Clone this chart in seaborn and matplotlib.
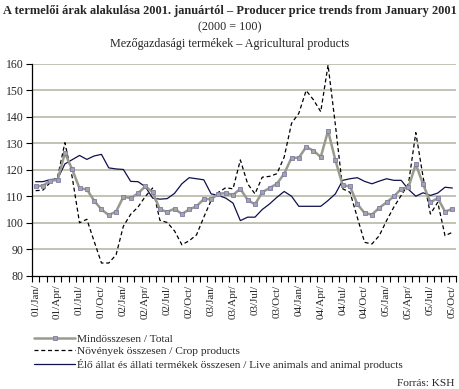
import matplotlib
matplotlib.use("Agg")
import matplotlib.pyplot as plt
import matplotlib.lines as mlines
import numpy as np
import pandas as pd
import seaborn as sns

# monthly index values, Jan 2001 - Oct 2005 (2000 = 100)
total = [113.8, 114.1, 116.0, 116.2, 126.4, 120.2, 113.1, 112.7, 108.4, 105.1,
         103.0, 104.3, 109.9, 109.4, 111.2, 113.8, 111.7, 105.1, 104.2, 105.4,
         103.4, 105.1, 106.3, 109.0, 109.0, 111.0, 111.3, 110.6, 112.9, 108.7,
         107.0, 111.6, 113.2, 114.8, 118.6, 124.6, 124.6, 128.7, 127.3, 124.9,
         134.8, 123.7, 114.2, 113.8, 107.2, 103.7, 103.2, 105.7, 107.8, 110.0,
         112.9, 113.5, 122.2, 114.6, 107.8, 109.4, 104.3, 105.3]
crop = [112.2, 112.4, 115.3, 117.3, 130.3, 117.3, 100.1, 101.4, 93.1, 84.9,
        84.9, 88.0, 98.8, 103.3, 106.0, 110.0, 113.2, 101.0, 100.2, 97.0,
        91.8, 93.3, 95.5, 102.2, 108.5, 111.6, 113.3, 112.9, 123.8, 114.8,
        111.0, 117.3, 117.6, 118.6, 124.9, 137.6, 141.4, 150.0, 146.5, 142.0,
        159.6, 137.0, 112.9, 111.6, 102.1, 92.7, 92.1, 95.2, 100.9, 106.0,
        110.4, 114.8, 134.1, 117.3, 103.4, 107.8, 95.2, 96.5]
animal = [115.6, 115.6, 116.4, 116.6, 122.3, 123.9, 125.5, 124.0, 125.3, 125.9,
          120.8, 120.4, 120.2, 115.7, 115.6, 113.7, 109.4, 109.0, 109.2, 111.2,
          114.8, 117.1, 116.7, 116.3, 111.0, 110.4, 109.4, 107.5, 100.9, 102.2,
          102.2, 105.1, 107.2, 109.7, 111.9, 110.1, 106.3, 106.3, 106.3, 106.3,
          108.5, 111.0, 116.1, 116.7, 117.1, 115.7, 114.8, 115.8, 116.7, 116.1,
          116.1, 112.7, 110.1, 111.4, 110.4, 111.3, 113.5, 113.2]

tick_labels = ["01/Jan/", "01/Apr/", "01/Jul/", "01/Oct/",
               "02/Jan/", "02/Apr/", "02/Jul/", "02/Oct/",
               "03/Jan/", "03/Apr/", "03/Jul/", "03/Oct/",
               "04/Jan/", "04/Apr/", "04/Jul/", "04/Oct/",
               "05/Jan/", "05/Apr/", "05/Jul/", "05/Oct/"]

series_names = ["Mindösszesen / Total",
                "Növények összesen / Crop products",
                "Élő állat és állati termékek összesen / Live animals and animal products"]

df = pd.DataFrame({"month": np.arange(len(total)), "total": total,
                   "crop": crop, "animal": animal})

sns.set_style("white")
plt.rcParams["font.family"] = ["Liberation Serif", "DejaVu Serif"]

fig = plt.figure(figsize=(4.59, 3.89), dpi=100)
ax = fig.add_axes([32 / 459, 1 - 276 / 389, 424 / 459, 212 / 389])

grid_col = "#b8b8a8"
for v in range(90, 161, 10):
    ax.axhline(v, color=grid_col, lw=1.2, zorder=0)

tot_style = dict(color="#9a9a8c", lw=1.8, marker="s", markersize=2.6,
                 markerfacecolor="#a4a4b0", markeredgecolor="#7c7ca4",
                 markeredgewidth=0.6)
crop_dash = (0, (3.2, 2.2))

sns.lineplot(data=df, x="month", y="animal", ax=ax, color="#101050", lw=0.9)
sns.lineplot(data=df, x="month", y="crop", ax=ax, color="black", lw=0.9,
             linestyle=crop_dash)
sns.lineplot(data=df, x="month", y="total", ax=ax, **tot_style)

ax.set_xlim(-0.5, len(total) - 0.5)
ax.set_ylim(80, 160)
ax.set_yticks(range(80, 161, 10))
ax.set_xticks(np.arange(0, len(total), 3))
ax.set_xticklabels(tick_labels, rotation=90)
ax.set_xticks(np.arange(-0.5, len(total), 1), minor=True)
ax.tick_params(axis="x", which="major", length=0, pad=6, labelsize=8)
ax.tick_params(axis="x", which="minor", length=4, width=0.8, color="black",
               direction="out", bottom=True)
ax.tick_params(axis="y", length=4, width=0.8, color="black", direction="out",
               left=True, labelsize=8.5, pad=2)
ax.set_xlabel("")
ax.set_ylabel("")
for s in ["top", "right"]:
    ax.spines[s].set_visible(False)
for s in ["left", "bottom"]:
    ax.spines[s].set_color("black")
    ax.spines[s].set_linewidth(0.9)

fig.text(0.5, 1 - 11 / 389, "A termelői árak alakulása 2001. januártól – Producer price trends from January 2001",
         ha="center", va="center", fontsize=8.9, fontweight="bold")
fig.text(0.5, 1 - 27 / 389, "(2000 = 100)", ha="center", va="center", fontsize=8.7)
fig.text(0.5, 1 - 44 / 389, "Mezőgazdasági termékek – Agricultural products",
         ha="center", va="center", fontsize=8.7)

handles = [
    mlines.Line2D([], [], **tot_style),
    mlines.Line2D([], [], color="black", lw=0.9, linestyle=crop_dash),
    mlines.Line2D([], [], color="#101050", lw=0.9),
]
fig.legend(handles, series_names, loc="upper left",
           bbox_to_anchor=(34 / 459, 1 - 334 / 389), frameon=False,
           fontsize=8.2, handlelength=3.6, handletextpad=0.2,
           labelspacing=0.22, numpoints=1, borderaxespad=0, borderpad=0)

fig.text(454 / 459, 1 - 383 / 389, "Forrás: KSH", ha="right", va="center",
         fontsize=8.2)

fig.savefig("out.png", dpi=100)
